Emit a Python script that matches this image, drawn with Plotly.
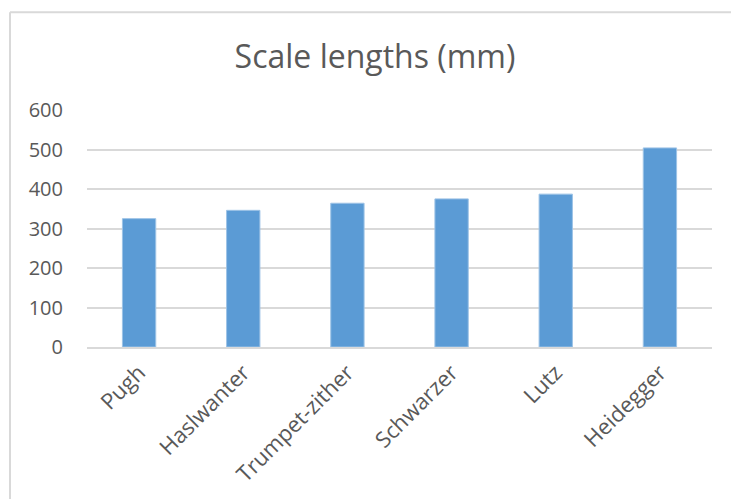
import plotly.graph_objects as go

categories = ["Pugh", "Haslwanter", "Trumpet-zither", "Schwarzer", "Lutz", "Heidegger"]
values = [325, 346, 364, 375, 387, 504]
y_ticks = [0, 100, 200, 300, 400, 500, 600]

FONT = "Open Sans"
TXT = "#595959"
GRID = "#d9d9d9"

fig = go.Figure(go.Bar(
    x=categories, y=values,
    marker=dict(color="#5b9bd5", line=dict(color="#9dc3e6", width=1)),
))

OFF = 8  # page body margin
W, H = 739 - OFF, 499 - OFF
L, R, T, B = 87 - OFF, 739 - 712, 110 - OFF, 499 - 350
pw, ph = W - L - R, H - T - B

fig.update_layout(
    width=W, height=H,
    margin=dict(l=L, r=R, t=T, b=B, pad=0),
    paper_bgcolor="white", plot_bgcolor="white",
    bargap=0.68,
    showlegend=False,
    font=dict(family=FONT, color=TXT, size=20),
    title=dict(text="Scale lengths (mm)", x=(375 - OFF) / W, xref="container",
               xanchor="center",
               y=1 - (57 - OFF) / H, yanchor="middle", yref="container",
               font=dict(family=FONT, size=32, color=TXT)),
    xaxis=dict(showgrid=False, showline=True, linecolor=GRID, linewidth=2,
               tickangle=-45, ticks="", tickfont=dict(size=22, color=TXT),
               ticklabelstandoff=2),
    yaxis=dict(range=[0, 600], tickvals=y_ticks, showgrid=True, gridcolor=GRID,
               gridwidth=2, zeroline=False, showline=False, ticks="",
               tickfont=dict(size=20, color=TXT), ticklabelstandoff=23),
    shapes=[
        dict(type="line", xref="paper", yref="paper",
             x0=(10 - 87) / pw, x1=(W + 20 - L) / pw,
             y0=(350 - 11) / ph, y1=(350 - 11) / ph,
             line=dict(color=GRID, width=2)),
        dict(type="line", xref="paper", yref="paper",
             x0=(10 - 87) / pw, x1=(10 - 87) / pw,
             y0=(350 - 11) / ph, y1=(350 - 520) / ph,
             line=dict(color=GRID, width=2)),
    ],
)

fig.write_html("out.html")
